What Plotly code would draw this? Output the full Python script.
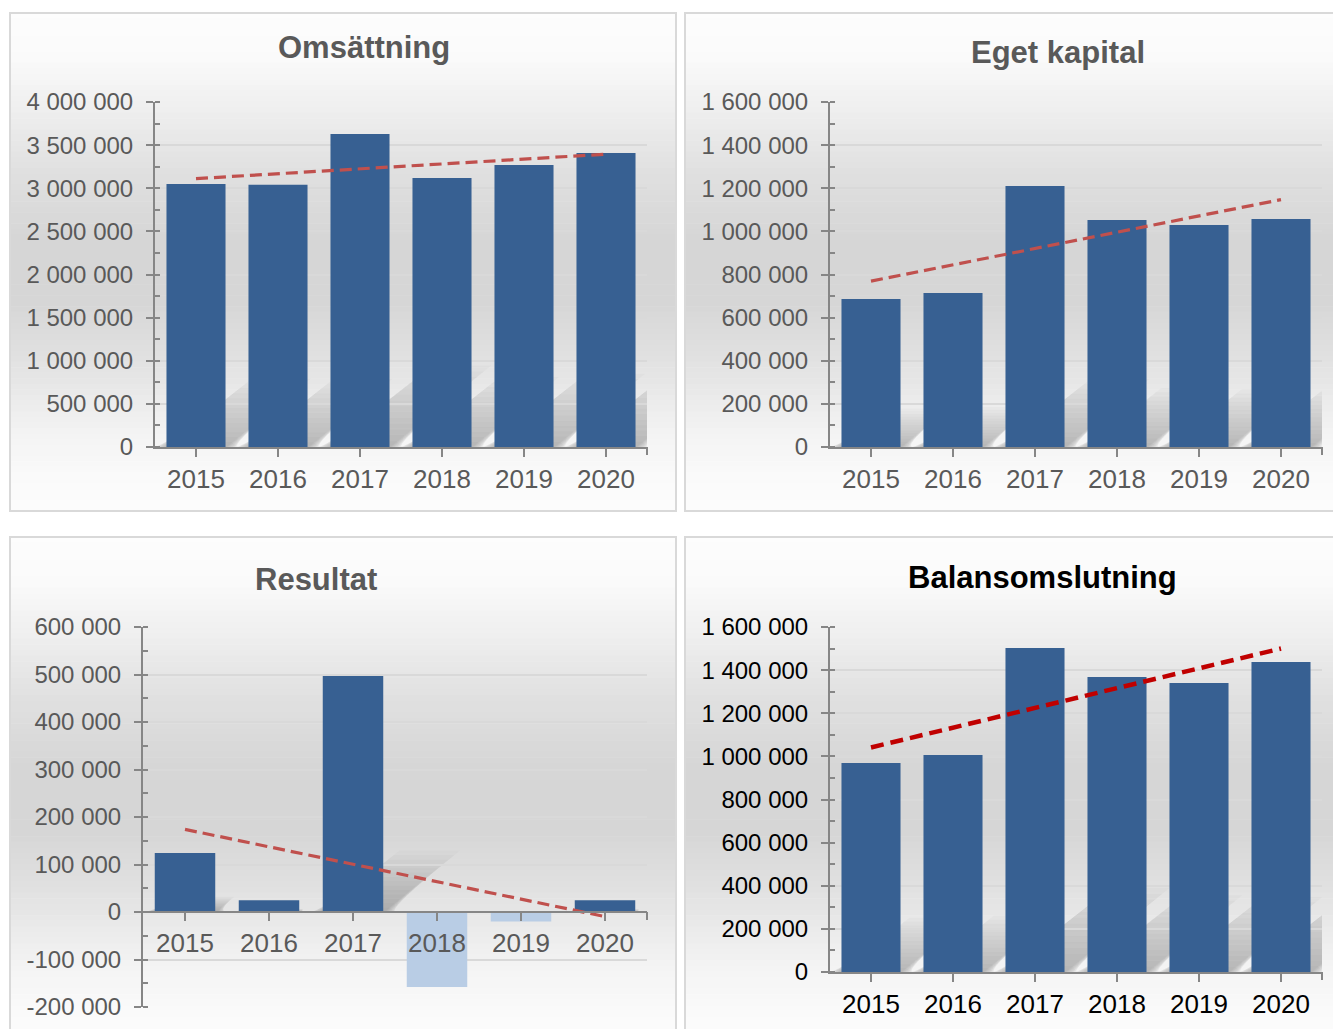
import numpy as np
import plotly.graph_objects as go

W, H = 1341, 1029
OFF = 8  # page body margin of the html page

# ---------------- data ----------------
years = [2015, 2016, 2017, 2018, 2019, 2020]
omsattning = [3050000, 3040000, 3630000, 3120000, 3270000, 3410000]
eget_kapital = [686000, 714000, 1210000, 1053000, 1030000, 1057000]
resultat = [124000, 25000, 497000, -158000, -20000, 25000]
balansomslutning = [969000, 1006000, 1503000, 1368000, 1340000, 1438000]
titles = ["Omsättning", "Eget kapital", "Resultat", "Balansomslutning"]

# ---------------- styling / geometry ----------------
BAR = "#376092"
BAR_NEG = "#b9cde5"
FONT = "Liberation Sans, Arial, sans-serif"
BARW = 0.72

panels = [
    dict(data=omsattning, title=titles[0], box=(10, 13, 676, 511), plot=(155, 102, 647, 447),
         yr=(0, 4000000), dt=500000, tpos=(364, 48), tcol="#595959", lcol="#595959",
         trend="#c0504d", tw=3.2, dash="12px,6px"),
    dict(data=eget_kapital, title=titles[1], box=(685, 13, 1360, 511), plot=(830, 102, 1322, 447),
         yr=(0, 1600000), dt=200000, tpos=(1058, 52), tcol="#595959", lcol="#595959",
         trend="#c0504d", tw=3.2, dash="12px,6px"),
    dict(data=resultat, title=titles[2], box=(10, 537, 676, 1045), plot=(143, 627, 647, 1007),
         yr=(-200000, 600000), dt=100000, tpos=(316, 579), tcol="#595959", lcol="#595959",
         trend="#c0504d", tw=3.2, dash="12px,6px"),
    dict(data=balansomslutning, title=titles[3], box=(685, 537, 1360, 1045), plot=(830, 627, 1322, 972),
         yr=(0, 1600000), dt=200000, tpos=(1042, 577), tcol="#000000", lcol="#000000",
         trend="#c00000", tw=4.5, dash="13px,7px"),
]

def px(x):
    return (x - OFF) / W

def py(y):
    return 1 - (y - OFF) / H

# background gradient stops (relative position in panel, gray level)
stops = [(0.0, 253), (0.09, 250), (0.2, 238), (0.32, 224), (0.45, 214), (0.58, 214),
         (0.72, 228), (0.84, 243), (0.93, 250), (1.0, 252)]
st_t = [s[0] for s in stops]
st_g = [s[1] for s in stops]

fig = go.Figure()
shapes = []
annotations = []

NB = 90
for i, p in enumerate(panels):
    x0, y0, x1, y1 = p["box"]
    # gradient bands
    for b in range(NB):
        t0 = b / NB
        t1 = (b + 1) / NB
        g = int(round(np.interp((t0 + t1) / 2, st_t, st_g)))
        shapes.append(dict(type="rect", xref="paper", yref="paper", layer="below",
                           x0=px(x0), x1=px(x1),
                           y0=py(y0 + t0 * (y1 - y0)), y1=py(y0 + t1 * (y1 - y0) + 0.6),
                           line=dict(width=0), fillcolor=f"rgb({g},{g},{g})"))
    # border
    shapes.append(dict(type="rect", xref="paper", yref="paper", layer="below",
                       x0=px(x0), x1=px(x1), y0=py(y1), y1=py(y0),
                       line=dict(color="#d9d9d9", width=2), fillcolor="rgba(0,0,0,0)"))

    n = i + 1
    xa = "x" if n == 1 else f"x{n}"
    ya = "y" if n == 1 else f"y{n}"
    vals = p["data"]
    colors = [BAR if v >= 0 else BAR_NEG for v in vals]
    fig.add_trace(go.Bar(x=years, y=vals, width=BARW,
                         marker=dict(color=colors, line=dict(width=0)),
                         xaxis=xa, yaxis=ya, showlegend=False))
    # linear trend line (least squares, as in the original spreadsheet chart)
    k, m = np.polyfit(years, vals, 1)
    trend = [k * yv + m for yv in years]
    fig.add_trace(go.Scatter(x=years, y=trend, mode="lines",
                             line=dict(color=p["trend"], width=p["tw"], dash=p["dash"]),
                             xaxis=xa, yaxis=ya, showlegend=False))

    lx0, ly0, lx1, ly1 = p["plot"]
    ymin, ymax = p["yr"]

    # soft perspective shadows behind positive bars (stacked translucent layers)
    ppx = (lx1 - lx0) / 6.0            # pixels per category unit
    ppy = (ly1 - ly0) / (ymax - ymin)  # pixels per value unit
    L = 14
    for yr_, v in zip(years, vals):
        if v <= 0:
            continue
        hpx = 0.26 * v * ppy
        for kk in range(L):
            f = (kk + 1) / L            # height fraction of this layer
            e = (L - kk) * 0.9          # horizontal softening in px
            h_k = hpx * f
            dx_k = 1.25 * h_k
            bx0 = yr_ - BARW / 2 - e / ppx
            bx1 = yr_ + BARW / 2 + e / ppx
            tx0 = bx0 + dx_k / ppx + e / ppx
            tx1 = bx1 + dx_k / ppx - e / ppx
            top = h_k / ppy
            path = f"M {bx0},0 L {bx1},0 L {tx1},{top} L {tx0},{top} Z"
            shapes.append(dict(type="path", xref=xa, yref=ya, layer="below", path=path,
                               line=dict(width=0), fillcolor="rgba(60,60,60,0.028)"))

    tv = list(np.arange(ymin, ymax + 1, p["dt"]))
    tt = [f"{int(v):,}".replace(",", " ") for v in tv]
    xkey = "xaxis" if n == 1 else f"xaxis{n}"
    ykey = "yaxis" if n == 1 else f"yaxis{n}"
    xax = dict(domain=[px(lx0), px(lx1)], range=[2014.5, 2020.5], tickmode="array",
               tickvals=years, ticktext=[str(y) for y in years],
               showline=True, linecolor="#868686", linewidth=2, ticks="outside",
               ticklen=8, tickwidth=2, tickcolor="#868686", showgrid=False, zeroline=False,
               tickfont=dict(family=FONT, size=26, color=p["lcol"]), ticklabelstandoff=0,
               automargin=False, fixedrange=True)
    if ymin < 0:
        zero_px = ly1 - (0 - ymin) / (ymax - ymin) * (ly1 - ly0)
        xax.update(anchor="free", position=py(zero_px))
    else:
        zero_px = ly1
        xax.update(anchor=ya)
    # end tick at the right end of the category axis
    shapes.append(dict(type="line", xref="paper", yref="paper", layer="above",
                       x0=px(lx1), x1=px(lx1), y0=py(zero_px), y1=py(zero_px + 8),
                       line=dict(color="#868686", width=2)))
    yax = dict(domain=[py(ly1), py(ly0)], range=[ymin, ymax], tickmode="array",
               tickvals=tv, ticktext=tt, anchor=xa,
               showline=True, linecolor="#868686", linewidth=2, ticks="outside",
               ticklen=7, tickwidth=2, tickcolor="#868686",
               showgrid=True, gridcolor="#d9d9d9", gridwidth=2, zeroline=False,
               minor=dict(ticks="inside", ticklen=5, tickwidth=2, tickcolor="#868686",
                          dtick=p["dt"] / 2, tick0=ymin, showgrid=False),
               tickfont=dict(family=FONT, size=24, color=p["lcol"]), ticklabelstandoff=8,
               automargin=False, fixedrange=True)
    fig.update_layout(**{xkey: xax, ykey: yax})

    # title
    annotations.append(dict(text=f"<b>{p['title']}</b>", xref="paper", yref="paper",
                            x=px(p["tpos"][0]), y=py(p["tpos"][1]), xanchor="center",
                            yanchor="middle", showarrow=False,
                            font=dict(family=FONT, size=31, color=p["tcol"])))

fig.update_layout(width=W, height=H, margin=dict(l=0, r=0, t=0, b=0, pad=0),
                  paper_bgcolor="white", plot_bgcolor="rgba(0,0,0,0)",
                  bargap=0.28, shapes=shapes, annotations=annotations,
                  showlegend=False)

fig.write_html("out.html")
